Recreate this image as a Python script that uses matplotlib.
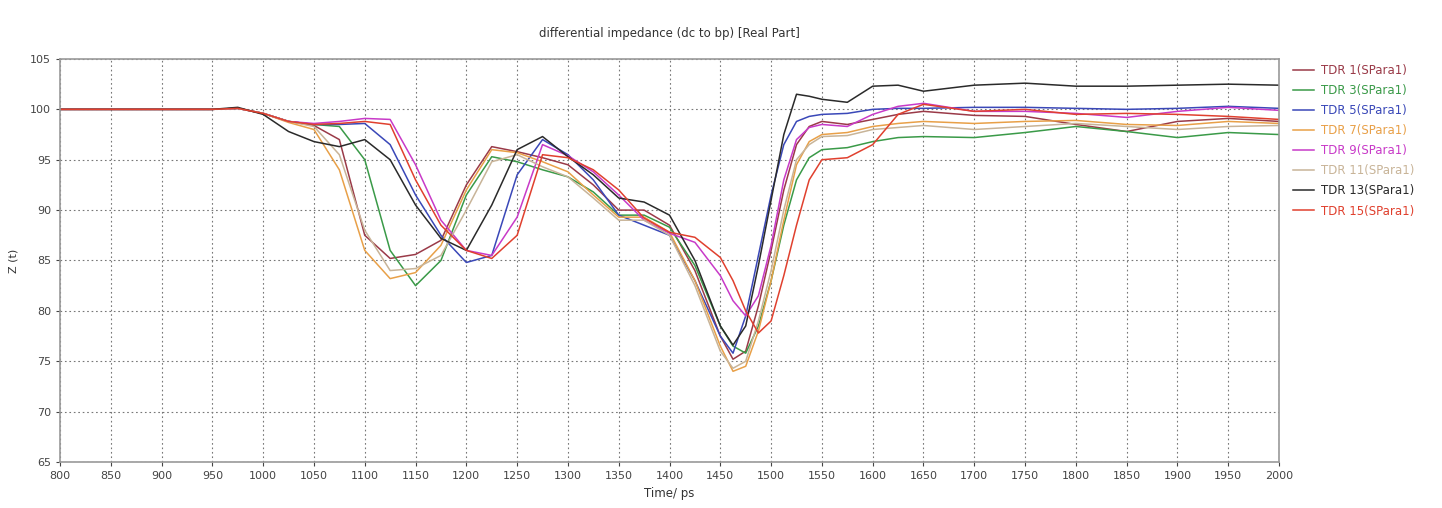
import matplotlib.pyplot as plt

# time axis (ps) shared by all traces
time_ps = [800, 900, 950, 975, 1000, 1025, 1050, 1075, 1100, 1125, 1150, 1175, 1200,
           1225, 1250, 1275, 1300, 1325, 1350, 1375, 1400, 1425, 1450, 1462.5, 1475,
           1487.5, 1500, 1512.5, 1525, 1537.5, 1550, 1575, 1600, 1625, 1650, 1700,
           1750, 1800, 1850, 1900, 1950, 2000]

tdr1 = [100, 100, 100, 100.1, 99.6, 98.8, 98.4, 97.0, 87.5, 85.2, 85.6, 87.0, 92.5,
        96.3, 95.8, 95.2, 94.5, 92.5, 90.0, 90.0, 88.5, 84.0, 77.5, 75.2, 76.0,
        80.5, 86.0, 92.0, 96.5, 98.3, 98.8, 98.5, 99.0, 99.5, 99.8, 99.4,
        99.3, 98.5, 97.8, 98.8, 99.1, 98.8]
tdr3 = [100, 100, 100, 100.1, 99.6, 98.8, 98.5, 98.3, 95.0, 86.0, 82.5, 85.0, 91.5,
        95.3, 94.8, 94.0, 93.3, 91.8, 89.5, 89.5, 88.3, 84.5, 78.5, 76.5, 75.8,
        78.5, 83.0, 88.5, 93.0, 95.2, 96.0, 96.2, 96.8, 97.2, 97.3, 97.2,
        97.7, 98.3, 97.8, 97.2, 97.7, 97.5]
tdr5 = [100, 100, 100, 100.1, 99.6, 98.8, 98.5, 98.5, 98.6, 96.5, 91.5, 87.5, 84.8,
        85.5, 93.5, 97.0, 95.5, 93.0, 89.5, 88.5, 87.5, 83.0, 77.5, 75.8, 79.5,
        85.5, 91.5, 96.5, 98.8, 99.3, 99.5, 99.6, 100.0, 100.1, 100.1, 100.2,
        100.2, 100.1, 100.0, 100.1, 100.3, 100.1]
tdr7 = [100, 100, 100, 100.1, 99.6, 98.7, 98.0, 94.0, 86.0, 83.2, 83.8, 86.5, 92.0,
        96.0, 95.7, 94.8, 93.8, 91.5, 89.3, 89.3, 87.8, 83.0, 76.5, 74.0, 74.5,
        78.0, 83.0, 89.0, 94.5, 96.8, 97.5, 97.7, 98.3, 98.6, 98.8, 98.6,
        98.8, 98.9, 98.5, 98.4, 98.8, 98.6]
tdr9 = [100, 100, 100, 100.1, 99.6, 98.8, 98.6, 98.8, 99.1, 99.0, 94.5, 89.0, 86.0,
        85.5, 89.3, 96.5, 95.4, 93.8, 91.5, 89.0, 87.7, 86.8, 83.5, 81.0, 79.5,
        81.5, 86.5, 93.0, 97.0, 98.2, 98.5, 98.3, 99.5, 100.3, 100.6, 99.8,
        99.8, 99.6, 99.2, 99.8, 100.2, 99.9]
tdr11 = [100, 100, 100, 100.1, 99.6, 98.8, 98.3, 95.5, 88.0, 84.0, 84.2, 85.5, 90.0,
         94.8, 95.5, 94.3, 93.3, 91.2, 89.0, 89.0, 87.5, 82.5, 76.0, 74.3, 75.0,
         79.0, 84.0, 90.0, 95.0, 96.5, 97.3, 97.4, 98.0, 98.2, 98.4, 98.0,
         98.3, 98.6, 98.3, 98.0, 98.3, 98.4]
tdr13 = [100, 100, 100, 100.2, 99.5, 97.8, 96.8, 96.3, 97.0, 95.0, 90.5, 87.2, 86.0,
         90.5, 96.0, 97.3, 95.3, 93.5, 91.2, 90.8, 89.5, 85.0, 78.5, 76.6, 78.5,
         84.5, 91.0, 97.5, 101.5, 101.3, 101.0, 100.7, 102.3, 102.4, 101.8, 102.4,
         102.6, 102.3, 102.3, 102.4, 102.5, 102.4]
tdr15 = [100, 100, 100, 100.1, 99.6, 98.8, 98.5, 98.6, 98.8, 98.5, 93.0, 88.5, 86.0,
         85.2, 87.5, 95.5, 95.2, 94.0, 92.0, 89.2, 87.8, 87.3, 85.3, 83.0, 80.0,
         77.8, 79.0, 83.5, 88.5, 93.0, 95.0, 95.2, 96.5, 99.5, 100.5, 99.8,
         100.0, 99.5, 99.6, 99.5, 99.3, 99.0]

series = [tdr1, tdr3, tdr5, tdr7, tdr9, tdr11, tdr13, tdr15]
labels = ["TDR 1(SPara1)", "TDR 3(SPara1)", "TDR 5(SPara1)", "TDR 7(SPara1)",
          "TDR 9(SPara1)", "TDR 11(SPara1)", "TDR 13(SPara1)", "TDR 15(SPara1)"]
colorset = ["#9a3a48", "#3a9a48", "#3a48b8", "#e8a048", "#c83ac8", "#c8b498", "#2a2a2a", "#e0402e"]

fig = plt.figure(figsize=(14.42, 5.08), dpi=100)
ax = fig.add_axes([0.0416, 0.0906, 0.8454, 0.7933])

for i in range(len(series)):
    ax.plot(time_ps, series[i], color=colorset[i], linewidth=1.1, label=labels[i])

ax.set_xlim(800, 2000)
ax.set_ylim(65, 105)
ax.set_xticks(range(800, 2001, 50))
ax.set_yticks(range(65, 106, 5))
ax.grid(True, linestyle=(0, (1.5, 2.5)), color="#777777", linewidth=0.8)
ax.tick_params(labelsize=8, colors="#444444", length=3)
for s in ax.spines.values():
    s.set_color("#999999")
    s.set_linewidth(1.2)

ax.set_title("differential impedance (dc to bp) [Real Part]", fontsize=8.5, color="#333333", pad=16)
ax.set_xlabel("Time/ ps", fontsize=8.5, color="#333333", labelpad=4)
ax.set_ylabel("Z (t)", fontsize=8, color="#333333", labelpad=8)

leg = fig.legend(loc="upper left", bbox_to_anchor=(0.889, 0.895), frameon=False,
                 fontsize=8.5, labelcolor="linecolor", handlelength=1.8,
                 handletextpad=0.6, labelspacing=0.6)

fig.savefig("out.png", dpi=100)
